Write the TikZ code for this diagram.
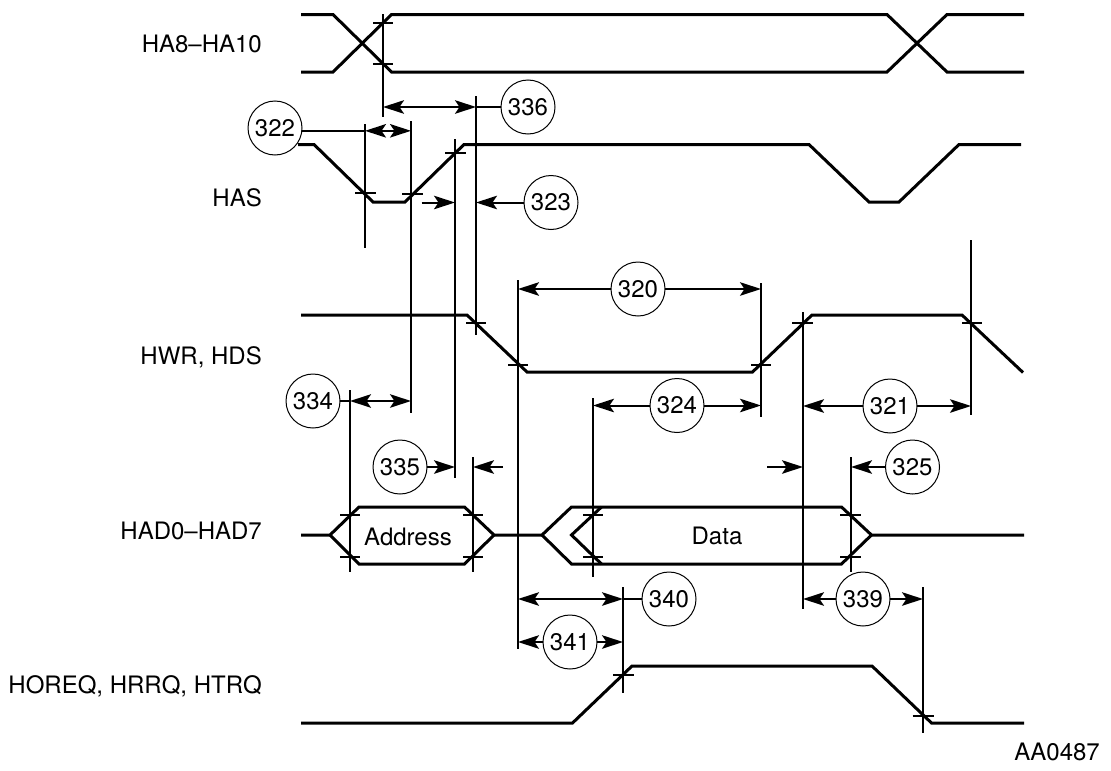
\documentclass[tikz,border=0pt]{standalone}
\usepackage{fontspec}
\setmainfont{TeX Gyre Heros}
\usetikzlibrary{arrows.meta}
\tikzset{
sig/.style={line width=3pt,line join=miter},
refl/.style={line width=2.2pt},
tickm/.style={line width=2pt},
dimline/.style={line width=2pt,-{Stealth[length=21pt,width=13.5pt,inset=4.5pt]}},
dimboth/.style={line width=2pt,{Stealth[length=21pt,width=13.5pt,inset=4.5pt]}-{Stealth[length=21pt,width=13.5pt,inset=4.5pt]}},
callout/.style={draw,shape=circle,line width=1pt,minimum size=54pt,inner sep=0pt,outer sep=0pt,font=\fontsize{24}{28}\selectfont},
siglabel/.style={anchor=base east,inner sep=0pt,font=\fontsize{24}{28}\selectfont},
buslabel/.style={anchor=base,inner sep=0pt,font=\fontsize{24}{28}\selectfont}
}
\begin{document}
\begin{tikzpicture}[x=1pt,y=-1pt]
\useasboundingbox(0,0)rectangle(1111,771);
% signal names
\node[siglabel](HA)at(262,52){HA8--HA10};
\node[siglabel](HAS)at(262,206){HAS};
\node[siglabel](HWR)at(262,364){HWR, HDS};
\node[siglabel](HAD)at(262,539.5){HAD0--HAD7};
\node[siglabel](HOREQ)at(262,693){HOREQ, HRRQ, HTRQ};
\node[buslabel](ADR)at(408,545.5){Address};
\node[buslabel](DAT)at(717,544){Data};
\node[siglabel](FIG)at(1100,760){AA0487};
%% waveforms
\draw[sig](301,14.5)--(333,14.5)--(391.5,72)--(887,72)--(947,14.5)--(1024,14.5);
\draw[sig](301,72)--(333,72)--(391.5,14.5)--(887,14.5)--(947,72)--(1024,72);
\draw[sig](298,144.5)--(314,144.5)--(373,202)--(405,202)--(464,144.5)--(809,144.5)--(869,202)--(899,202)--(959,144.5)--(1021,144.5);
\draw[sig](301,315)--(467,315)--(527,372)--(752.5,372)--(812,315)--(962,315)--(1023,372.5);
\draw[sig](301,535)--(330,535)--(359,507)--(464.5,507)--(494,535)--(542,535)--(571.5,507)--(841.5,507)--(871.5,535)--(1024,535);
\draw[sig](330,535)--(359,564)--(464.5,564)--(494,535);
\draw[sig](542,535)--(571.5,564)--(841.5,564)--(871.5,535);
\draw[sig](601.5,507)--(571.5,535)--(601.5,564);
\draw[sig](301,723)--(572.5,723)--(632,666)--(872,666)--(931.5,723)--(1024,723);
%% reference lines with their ticks
\draw[refl](383,14)coordinate(L383)--(383,117);
\draw[tickm](373,22.7)--++(20,0);
\draw[tickm](373,64)--++(20,0);
\draw[refl](476,96)coordinate(L476)--(476,335);
\draw[tickm](466,323)--++(20,0);
\draw[refl](365,124)coordinate(L365)--(365,248);
\draw[tickm](355,192.7)--++(21,0);
\draw[refl](411,121)coordinate(L411)--(411,413);
\draw[tickm](402,194)--++(21,0);
\draw[refl](455,139)coordinate(L455)--(455,478);
\draw[tickm](445,153)--++(21,0);
\draw[refl](518,280)coordinate(L518)--(518,649);
\draw[tickm](508,365)--++(20,0);
\draw[refl](761,283)coordinate(L761)--(761,417);
\draw[tickm](751,365)--++(20,0);
\draw[refl](803,312)coordinate(L803)--(803,609);
\draw[tickm](792,322.7)--++(21,0);
\draw[refl](971,240)coordinate(L971)--(971,415);
\draw[tickm](962,322.7)--++(20,0);
\draw[refl](593,398)coordinate(L594)--(593,577);
\draw[tickm](583,515)--++(20,0);
\draw[tickm](583,557)--++(20,0);
\draw[refl](851,457)coordinate(L851)--(851,572);
\draw[tickm](840,514.5)--++(21,0);
\draw[tickm](840,556.7)--++(21,0);
\draw[refl](350,390)coordinate(L350)--(350,572);
\draw[tickm](340,515)--++(20,0);
\draw[tickm](340,556.7)--++(20,0);
\draw[refl](473,457)coordinate(L473)--(473,572);
\draw[tickm](463,515)--++(20,0);
\draw[tickm](463,556.7)--++(20,0);
\draw[refl](623,587)coordinate(L623)--(623,693);
\draw[tickm](613,675)--++(21,0);
\draw[refl](923,587)coordinate(L923)--(923,733);
\draw[tickm](912.5,715.7)--++(21,0);
%% callouts
\node[callout](C322)at(275,128){322};
\node[callout](C336)at(528,107){336};
\node[callout](C323)at(551,202.5){323};
\node[callout](C320)at(638,289){320};
\node[callout](C324)at(677,405.5){324};
\node[callout](C321)at(890,406){321};
\node[callout](C334)at(313,401){334};
\node[callout](C335)at(400,467){335};
\node[callout](C325)at(912.5,467){325};
\node[callout](C340)at(669,599){340};
\node[callout](C339)at(863,599){339};
\node[callout](C341)at(570,642){341};
%% dimensions
\draw[dimboth](L383|-C336)--(L476|-C336);
\draw[tickm](L476|-C336)--(C336.west);
\draw[tickm](C322.354)--(C322.354-|L365);
\draw[dimboth](C322.354-|L365)--(C322.354-|L411);
\coordinate(S323)at(421.5,202.5);
\draw[dimline](S323)--(S323-|L455);
\draw[dimline](C323.west)--(C323-|L476);
\draw[dimline](C320.west)--(C320-|L518);
\draw[dimline](C320.east)--(C320-|L761);
\draw[dimline](C324.west)--(C324-|L594);
\draw[dimline](C324.east)--(C324-|L761);
\draw[dimline](C321.west)--(C321-|L803);
\draw[dimline](C321.east)--(C321-|L971);
\draw[tickm](C334.east)--(C334-|L350);
\draw[dimboth](C334-|L350)--(C334-|L411);
\draw[dimline](C335.east)--(C335-|L455);
\coordinate(S335)at(503,467);
\draw[dimline](S335)--(S335-|L473);
\coordinate(S325)at(767,467);
\draw[dimline](S325)--(S325-|L803);
\draw[dimline](C325.west)--(C325-|L851);
\draw[dimboth](L518|-C340)--(L623|-C340);
\draw[tickm](L623|-C340)--(C340.west);
\draw[dimline](C339.west)--(C339-|L803);
\draw[dimline](C339.east)--(C339-|L923);
\draw[dimline](C341.west)--(C341-|L518);
\draw[dimline](C341.east)--(C341-|L623);
\end{tikzpicture}
\end{document}
